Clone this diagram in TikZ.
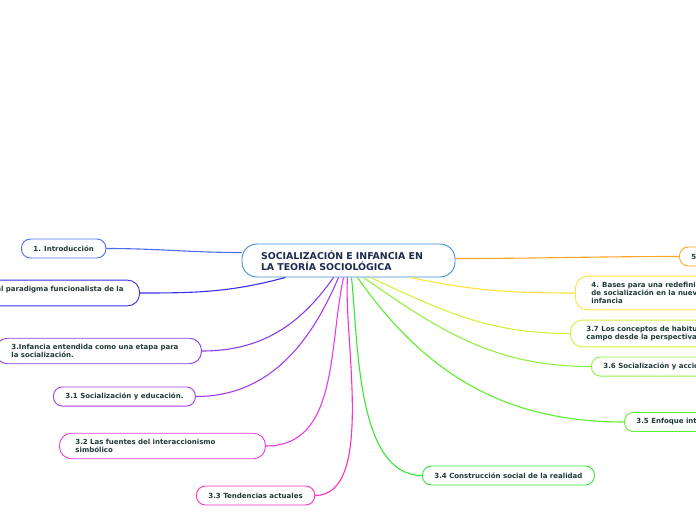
\documentclass[tikz,border=0pt]{standalone}
\usepackage{fontspec}
\newfontfamily\mapfont{DejaVu Sans}
\usetikzlibrary{positioning,calc}
\definecolor{rootline}{HTML}{3A8FD6}
\definecolor{rootink}{HTML}{1B2A4E}
\definecolor{ink}{HTML}{1E3A36}
\definecolor{c1}{HTML}{4A6CF0}
\definecolor{c2}{HTML}{3A30E8}
\definecolor{c3}{HTML}{8A3CF2}
\definecolor{c31}{HTML}{A43CF0}
\definecolor{c32}{HTML}{E83CE8}
\definecolor{c33}{HTML}{FF2EC4}
\definecolor{c34}{HTML}{34E834}
\definecolor{c35}{HTML}{5CF02C}
\definecolor{c36}{HTML}{94F040}
\definecolor{c37}{HTML}{D4F03C}
\definecolor{c4}{HTML}{FFE23C}
\definecolor{c5}{HTML}{FFA526}
\begin{document}
\begin{tikzpicture}[
		x=1pt, y=1pt,
		root/.style={draw=rootline, fill=white, line width=0.9pt, rounded corners=15pt, text width=175pt, inner xsep=19pt, minimum height=33pt, align=left, text=rootink, font=\mapfont\bfseries\fontsize{9.4}{10.5}\selectfont},
		topic/.style={draw=#1, fill=white, line width=0.9pt, rounded corners=9pt, inner xsep=12pt, inner ysep=6pt, minimum height=19pt, align=left, text=ink, font=\mapfont\bfseries\fontsize{7}{8}\selectfont},
		multi/.style={rounded corners=12pt, inner xsep=16pt},
		wide/.style={multi, text width=174pt},
		link/.style={draw=#1, line width=1.1pt}
	]
	\useasboundingbox (0,-520) rectangle (696,0);
	\clip (0,-520) rectangle (696,0);

	% Nodes
	\node[root] (root) at (348.5,-260.5) {SOCIALIZACIÓN E INFANCIA EN\\LA TEORÍA SOCIOLÓGICA};
	\node[topic=c1, anchor=west] (intro) at (21,-248.5) {1. Introducción};
	\node[topic=c2, multi, anchor=east] (sec2) at (140,-293) {2. Aproximación al paradigma funcionalista de la\\socialización};
	\node[topic=c3, wide, anchor=west] (sec3) at (-5,-351) {3.Infancia entendida como una etapa para\\la socialización.};
	\node[topic=c31, anchor=west] (sec31) at (53,-396.5) {3.1 Socialización y educación.};
	\node[topic=c32, wide, anchor=west] (sec32) at (59,-446) {3.2 Las fuentes del interaccionismo\\simbólico};
	\node[topic=c33, anchor=west] (sec33) at (196,-495.5) {3.3 Tendencias actuales};
	\node[topic=c34, anchor=west] (sec34) at (422,-475.5) {3.4 Construcción social de la realidad};
	\node[topic=c35, anchor=west] (sec35) at (624,-422) {3.5 Enfoque interpretativo};
	\node[topic=c36, anchor=west] (sec36) at (591,-366.5) {3.6 Socialización y acción comunicativa};
	\node[topic=c37, multi, anchor=west] (sec37) at (570,-333.5) {3.7 Los conceptos de habitus y\\campo desde la perspectiva de Bourdieu};
	\node[topic=c4, multi, anchor=west] (sec4) at (575,-293) {4. Bases para una redefinición del concepto\\de socialización en la nueva sociología de la\\infancia};
	\node[topic=c5, anchor=west] (sec5) at (679,-256.5) {5. Conclusiones};

	% Links
	\draw[link=c1] ([yshift=8pt]root.west) to[out=180, in=0] (intro.east);
	\draw[link=c2] ([xshift=-63pt]root.south) to[out=195, in=0] (sec2.east);
	\draw[link=c3] ([xshift=-15pt]root.south) to[out=235, in=0] (sec3.east);
	\draw[link=c31] ([xshift=-10pt]root.south) to[out=247, in=0] (sec31.east);
	\draw[link=c32] ([xshift=-5pt]root.south) to[out=258, in=0] (sec32.east);
	\draw[link=c33] ([xshift=-1pt]root.south) to[out=266, in=0, looseness=0.7] (sec33.east);
	\draw[link=c34] ([xshift=3pt]root.south) to[out=-84, in=180, looseness=0.8] (sec34.west);
	\draw[link=c35] ([xshift=9pt]root.south) to[out=-55, in=180] (sec35.west);
	\draw[link=c36] ([xshift=15pt]root.south) to[out=-35, in=180] (sec36.west);
	\draw[link=c37] ([xshift=22pt]root.south) to[out=-25, in=180] (sec37.west);
	\draw[link=c4] ([xshift=62pt]root.south) to[out=-12, in=180] (sec4.west);
	\draw[link=c5] ([yshift=2pt]root.east) to[out=0, in=180] (sec5.west);
\end{tikzpicture}
\end{document}
